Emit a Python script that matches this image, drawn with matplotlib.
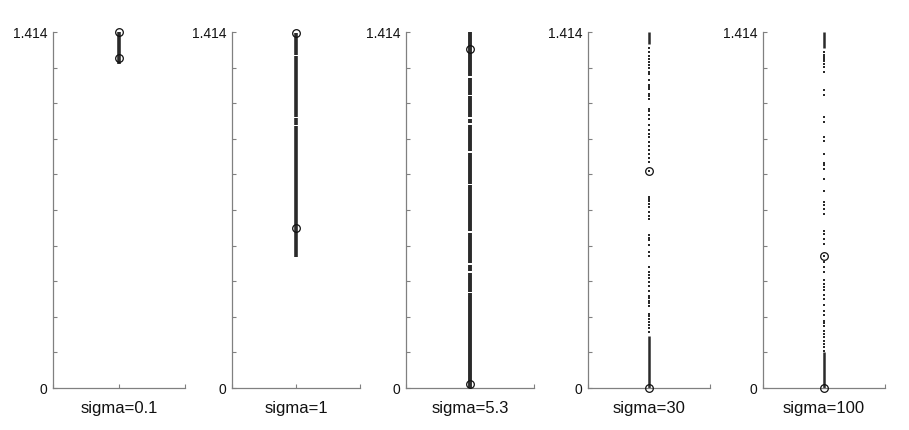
import matplotlib
matplotlib.use("Agg")
import matplotlib.pyplot as plt
import numpy as np

plt.rcParams['font.family'] = ['Liberation Sans', 'DejaVu Sans']

YMAX = 1.414
labels = ["sigma=0.1", "sigma=1", "sigma=5.3", "sigma=30", "sigma=100"]

# dense runs of points (drawn as solid strokes): (top, bottom)
seg_s01 = [(1.414, 1.285)]
seg_s1 = [(1.411, 1.322), (1.317, 1.077), (1.071, 1.045), (1.040, 0.519)]
seg_s53 = [(1.414, 1.238), (1.232, 1.165), (1.159, 1.075), (1.069, 1.052),
           (1.046, 0.940), (0.934, 0.811), (0.805, 0.622), (0.616, 0.496),
           (0.490, 0.463), (0.457, 0.383), (0.377, 0.0)]
seg_s30 = [(1.414, 1.367), (0.208, 0.0)]
seg_s100 = [(1.414, 1.350), (0.142, 0.0)]

# isolated points
pts_s01 = []
pts_s1 = []
pts_s53 = []
pts_s30 = [1.350, 1.334, 1.317, 1.305, 1.293, 1.281, 1.271, 1.257, 1.248,
           1.222, 1.202, 1.195, 1.186, 1.169, 1.159, 1.149, 1.109, 1.100,
           1.083, 1.069, 1.043, 1.026, 1.010, 0.996, 0.979, 0.963, 0.947,
           0.930, 0.913, 0.897, 0.860, 0.758, 0.751, 0.742, 0.731, 0.718,
           0.701, 0.682, 0.672, 0.606, 0.596, 0.586, 0.566, 0.542, 0.526,
           0.480, 0.460, 0.447, 0.436, 0.423, 0.407, 0.387, 0.364, 0.356,
           0.347, 0.338, 0.325, 0.294, 0.285, 0.274, 0.264, 0.250, 0.237,
           0.224]
pts_s100 = [1.334, 1.324, 1.314, 1.305, 1.297, 1.288, 1.275, 1.255, 1.185,
            1.165, 1.076, 1.056, 0.996, 0.983, 0.930, 0.894, 0.884, 0.871,
            0.831, 0.784, 0.738, 0.727, 0.712, 0.692, 0.625, 0.612, 0.592,
            0.572, 0.523, 0.500, 0.480, 0.460, 0.427, 0.413, 0.400, 0.391,
            0.370, 0.354, 0.330, 0.307, 0.288, 0.268, 0.258, 0.248, 0.228,
            0.215, 0.201, 0.188, 0.175, 0.162, 0.148]

# circled (highlighted) points
circ_s01 = [1.414, 1.311]
circ_s1 = [1.411, 0.635]
circ_s53 = [1.347, 0.016]
circ_s30 = [0.860, 0.0]
circ_s100 = [0.523, 0.0]

segments = [seg_s01, seg_s1, seg_s53, seg_s30, seg_s100]
seg_widths = [2.6, 2.6, 2.8, 1.8, 1.8]
points = [pts_s01, pts_s1, pts_s53, pts_s30, pts_s100]
circles = [circ_s01, circ_s1, circ_s53, circ_s30, circ_s100]

W, H = 909, 431
fig = plt.figure(figsize=(W / 100, H / 100), dpi=100)

lefts = [53, 232, 406, 588, 763]
rights = [185, 360, 534, 710, 885]
top_px, bot_px = 33, 389

axc = '#808080'
dotc = '#2a2a2a'

for i in range(5):
    ax = fig.add_axes([lefts[i] / W, (H - bot_px) / H,
                       (rights[i] - lefts[i]) / W, (bot_px - top_px) / H])
    ax.set_xlim(0, 2)
    ax.set_ylim(0, YMAX)
    for (a, b) in segments[i]:
        ax.vlines(1, b, a, color=dotc, linewidth=seg_widths[i], zorder=2)
    if points[i]:
        ax.plot(np.ones(len(points[i])), points[i], linestyle='none',
                marker='s', markersize=2.1, color=dotc, markeredgewidth=0,
                zorder=3)
    ax.plot(np.ones(len(circles[i])), circles[i], linestyle='none',
            marker='o', markersize=5.5, markerfacecolor='none',
            markeredgecolor='#111111', markeredgewidth=0.9, zorder=4,
            clip_on=False)
    for s in ['top', 'right']:
        ax.spines[s].set_visible(False)
    for s in ['left', 'bottom']:
        ax.spines[s].set_color(axc)
        ax.spines[s].set_linewidth(0.9)
    yt = np.linspace(0, YMAX, 11)
    ax.set_yticks(yt)
    ax.set_yticklabels(['0'] + [''] * 9 + ['1.414'])
    ax.set_xticks([0, 1, 2])
    ax.set_xticklabels([])
    ax.tick_params(axis='both', direction='in', length=3, width=0.8,
                   color=axc, labelsize=10, labelcolor='#111111', pad=4)
    ax.set_xlabel(labels[i], fontsize=12, color='#111111', labelpad=5)

fig.savefig('out.png', dpi=100)
